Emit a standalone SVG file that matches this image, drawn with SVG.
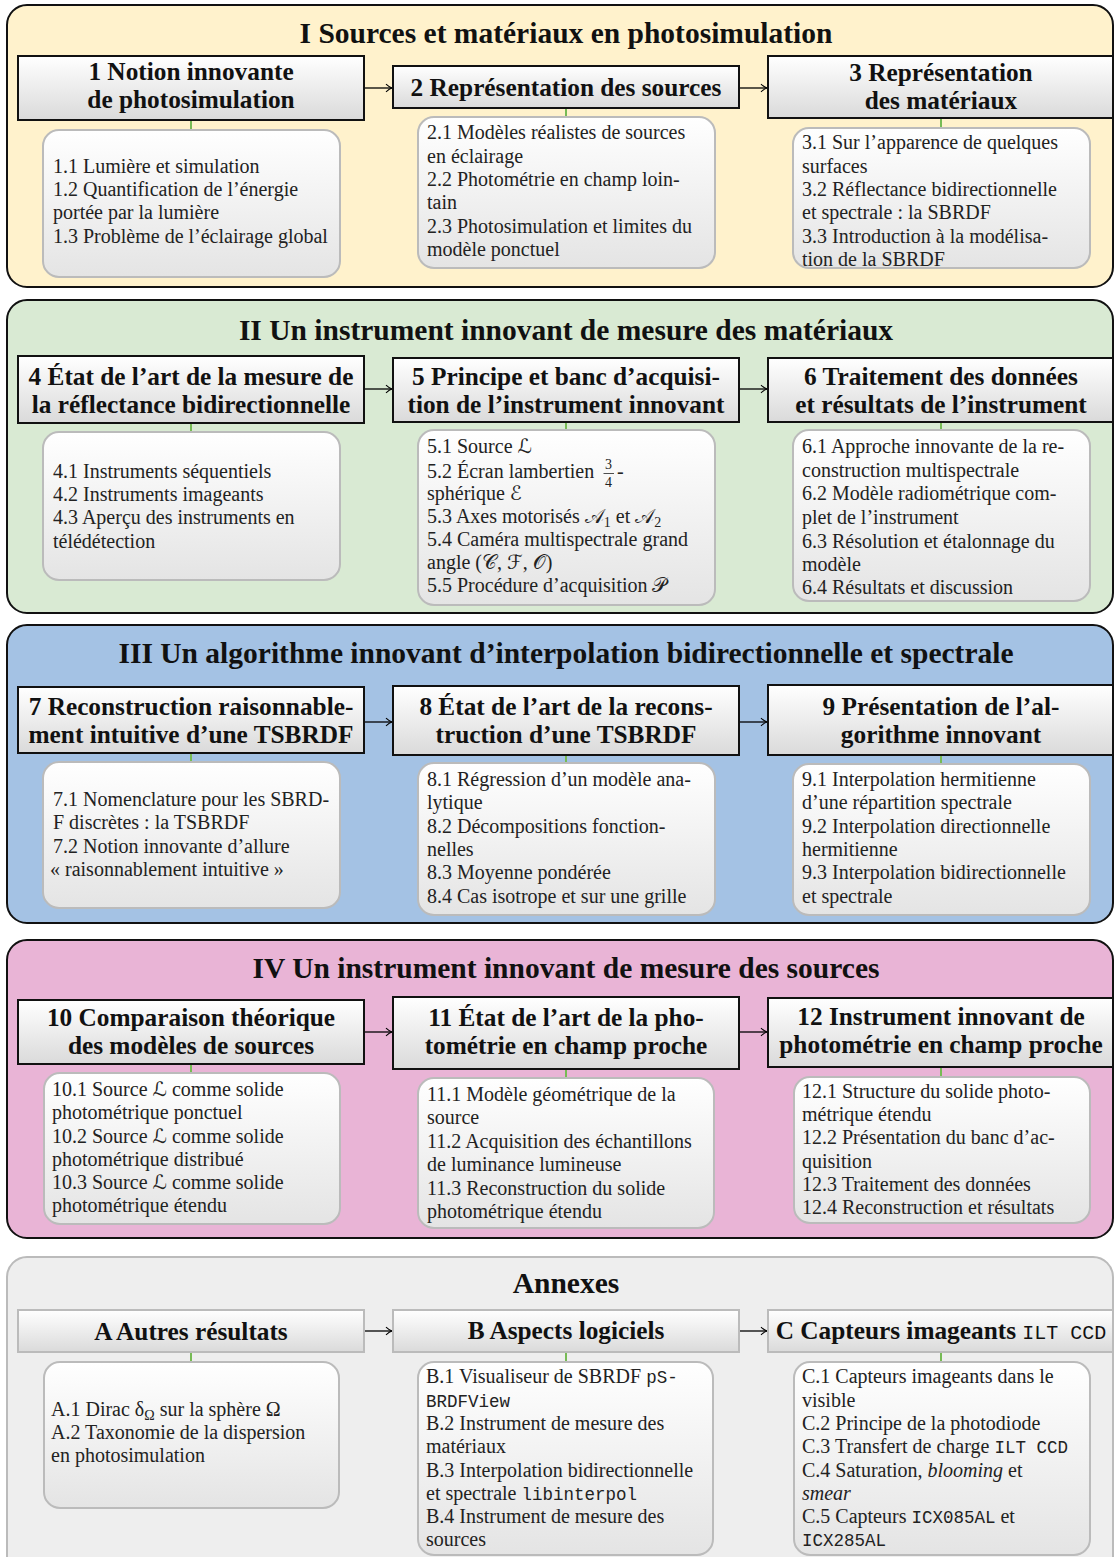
<svg xmlns="http://www.w3.org/2000/svg" width="1115" height="1557" viewBox="0 0 1115 1557">
<defs>
<linearGradient id="ghdr" x1="0" y1="0" x2="0" y2="1"><stop offset="0" stop-color="#FFFFFF"/><stop offset="1" stop-color="#DADADA"/></linearGradient>
<linearGradient id="gcnt" x1="0" y1="0" x2="0" y2="1"><stop offset="0" stop-color="#FFFFFF"/><stop offset="1" stop-color="#E4E4E4"/></linearGradient>
<marker id="ah" viewBox="-8 -5 9 10" refX="0" refY="0" markerWidth="9" markerHeight="10" markerUnits="userSpaceOnUse" orient="auto"><path d="M-6,-3.8 Q-2.5,-0.6 0,0 Q-2.5,0.6 -6,3.8" fill="none" stroke="#000" stroke-width="1.1"/></marker>
<style>
.pan{stroke:#111;stroke-width:2}
.hdr{fill:url(#ghdr);stroke:#111;stroke-width:2}
.hdrA{fill:url(#ghdr);stroke:#BBBBBB;stroke-width:2}
.cnt{fill:url(#gcnt);stroke:#BBBBBB;stroke-width:2}
.ti{font-family:"Liberation Serif","DejaVu Serif",serif;font-weight:bold;font-size:29.5px;text-anchor:middle;fill:#111}
.h{font-family:"Liberation Serif","DejaVu Serif",serif;font-weight:bold;font-size:25.3px;text-anchor:middle;fill:#111}
.t{font-family:"Liberation Serif","DejaVu Serif","DejaVu Sans",serif;font-size:20px;fill:#222}
.m{font-family:"Liberation Mono","DejaVu Sans Mono",monospace;font-weight:normal;font-size:17.5px}
.mh{font-family:"Liberation Mono","DejaVu Sans Mono",monospace;font-weight:normal;font-size:20px}
.lk{stroke:#77BB55;stroke-width:2}
.ar{stroke:#000;stroke-width:1.3;fill:none;marker-end:url(#ah)}
</style>
</defs>
<g id="panels">
<rect id="panel-I" class="pan" x="7" y="5" width="1106" height="282" rx="20" fill="#FFF2CC"/>
<rect id="panel-II" class="pan" x="7" y="300" width="1106" height="313" rx="20" fill="#D9EAD3"/>
<rect id="panel-III" class="pan" x="7" y="625" width="1106" height="298" rx="20" fill="#A4C2E4"/>
<rect id="panel-IV" class="pan" x="7" y="940" width="1106" height="298" rx="20" fill="#E9B4D6"/>
<rect id="panel-annexes" x="7" y="1257" width="1106" height="330" rx="20" fill="#EEEEEE" stroke="#BBBBBB" stroke-width="2"/>
<text class="ti" x="566" y="43">I Sources et matériaux en photosimulation</text>
<text class="ti" x="566" y="340">II Un instrument innovant de mesure des matériaux</text>
<text class="ti" x="566" y="663">III Un algorithme innovant d’interpolation bidirectionnelle et spectrale</text>
<text class="ti" x="566" y="978">IV Un instrument innovant de mesure des sources</text>
<text class="ti" x="566" y="1293">Annexes</text>
</g>
<g id="connectors">
<line class="ar" x1="364" y1="88" x2="392" y2="88"/>
<line class="ar" x1="739" y1="88" x2="767" y2="88"/>
<line class="ar" x1="364" y1="389" x2="392" y2="389"/>
<line class="ar" x1="739" y1="389" x2="767" y2="389"/>
<line class="ar" x1="364" y1="722" x2="392" y2="722"/>
<line class="ar" x1="739" y1="722" x2="767" y2="722"/>
<line class="ar" x1="364" y1="1032" x2="392" y2="1032"/>
<line class="ar" x1="739" y1="1032" x2="767" y2="1032"/>
<line class="ar" x1="364" y1="1331" x2="392" y2="1331"/>
<line class="ar" x1="739" y1="1331" x2="767" y2="1331"/>
<line class="lk" x1="191" y1="120" x2="191" y2="130"/>
<line class="lk" x1="566" y1="108" x2="566" y2="117"/>
<line class="lk" x1="941" y1="118" x2="941" y2="128"/>
<line class="lk" x1="191" y1="423" x2="191" y2="432"/>
<line class="lk" x1="566" y1="422" x2="566" y2="430"/>
<line class="lk" x1="941" y1="422" x2="941" y2="430"/>
<line class="lk" x1="191" y1="753" x2="191" y2="762"/>
<line class="lk" x1="566" y1="755" x2="566" y2="763"/>
<line class="lk" x1="941" y1="755" x2="941" y2="764"/>
<line class="lk" x1="191" y1="1064" x2="191" y2="1073"/>
<line class="lk" x1="566" y1="1069" x2="566" y2="1078"/>
<line class="lk" x1="941" y1="1067" x2="941" y2="1077"/>
<line class="lk" x1="191" y1="1352" x2="191" y2="1362"/>
<line class="lk" x1="566" y1="1352" x2="566" y2="1362"/>
<line class="lk" x1="941" y1="1352" x2="941" y2="1362"/>
</g>
<g id="node-1">
<rect class="hdr" x="18" y="56" width="346" height="64"/>
<text class="h" x="191" y="80">1 Notion innovante</text>
<text class="h" x="191" y="108">de photosimulation</text>
<rect class="cnt" x="43" y="130" width="297" height="147" rx="16"/>
<text class="t" x="53" y="173">1.1 Lumière et simulation</text>
<text class="t" x="53" y="196">1.2 Quantification de l’énergie</text>
<text class="t" x="53" y="219">portée par la lumière</text>
<text class="t" x="53" y="243">1.3 Problème de l’éclairage global</text>
</g>
<g id="node-2">
<rect class="hdr" x="393" y="66" width="346" height="42"/>
<text class="h" x="566" y="96">2 Représentation des sources</text>
<rect class="cnt" x="418" y="117" width="297" height="151" rx="16"/>
<text class="t" x="427" y="139">2.1 Modèles réalistes de sources</text>
<text class="t" x="427" y="163">en éclairage</text>
<text class="t" x="427" y="186">2.2 Photométrie en champ loin-</text>
<text class="t" x="427" y="209">tain</text>
<text class="t" x="427" y="233">2.3 Photosimulation et limites du</text>
<text class="t" x="427" y="256">modèle ponctuel</text>
</g>
<g id="node-3">
<rect class="hdr" x="768" y="56" width="345" height="62"/>
<text class="h" x="941" y="81">3 Représentation</text>
<text class="h" x="941" y="109">des matériaux</text>
<rect class="cnt" x="793" y="128" width="297" height="140" rx="16"/>
<text class="t" x="802" y="149">3.1 Sur l’apparence de quelques</text>
<text class="t" x="802" y="173">surfaces</text>
<text class="t" x="802" y="196">3.2 Réflectance bidirectionnelle</text>
<text class="t" x="802" y="219">et spectrale : la SBRDF</text>
<text class="t" x="802" y="243">3.3 Introduction à la modélisa-</text>
<text class="t" x="802" y="266">tion de la SBRDF</text>
</g>
<g id="node-4">
<rect class="hdr" x="18" y="356" width="346" height="67"/>
<text class="h" x="191" y="385">4 État de l’art de la mesure de</text>
<text class="h" x="191" y="413">la réflectance bidirectionnelle</text>
<rect class="cnt" x="43" y="432" width="297" height="148" rx="16"/>
<text class="t" x="53" y="478">4.1 Instruments séquentiels</text>
<text class="t" x="53" y="501">4.2 Instruments imageants</text>
<text class="t" x="53" y="524">4.3 Aperçu des instruments en</text>
<text class="t" x="53" y="548">télédétection</text>
</g>
<g id="node-5">
<rect class="hdr" x="393" y="358" width="346" height="64"/>
<text class="h" x="566" y="385">5 Principe et banc d’acquisi-</text>
<text class="h" x="566" y="413">tion de l’instrument innovant</text>
<rect class="cnt" x="418" y="430" width="297" height="175" rx="16"/>
<text class="t" x="427" y="453">5.1 Source ℒ</text>
<text class="t" x="427" y="478">5.2 Écran lambertien <tspan x="605" y="469" font-size="14">3</tspan><tspan x="605" y="487" font-size="14">4</tspan><tspan x="617" y="478">-</tspan></text>
<line x1="603.5" y1="473.5" x2="614" y2="473.5" stroke="#222" stroke-width="0.8"/>
<text class="t" x="427" y="500">sphérique ℰ</text>
<text class="t" x="427" y="523">5.3 Axes motorisés 𝒜<tspan font-size="14" dy="4">1</tspan><tspan dy="-4"> et 𝒜</tspan><tspan font-size="14" dy="4">2</tspan></text>
<text class="t" x="427" y="546">5.4 Caméra multispectrale grand</text>
<text class="t" x="427" y="569">angle (𝒞, ℱ, 𝒪)</text>
<text class="t" x="427" y="592">5.5 Procédure d’acquisition 𝒫</text>
</g>
<g id="node-6">
<rect class="hdr" x="768" y="358" width="345" height="64"/>
<text class="h" x="941" y="385">6 Traitement des données</text>
<text class="h" x="941" y="413">et résultats de l’instrument</text>
<rect class="cnt" x="793" y="430" width="297" height="171" rx="16"/>
<text class="t" x="802" y="453">6.1 Approche innovante de la re-</text>
<text class="t" x="802" y="477">construction multispectrale</text>
<text class="t" x="802" y="500">6.2 Modèle radiométrique com-</text>
<text class="t" x="802" y="524">plet de l’instrument</text>
<text class="t" x="802" y="548">6.3 Résolution et étalonnage du</text>
<text class="t" x="802" y="571">modèle</text>
<text class="t" x="802" y="594">6.4 Résultats et discussion</text>
</g>
<g id="node-7">
<rect class="hdr" x="18" y="687" width="346" height="66"/>
<text class="h" x="191" y="715">7 Reconstruction raisonnable-</text>
<text class="h" x="191" y="743">ment intuitive d’une TSBRDF</text>
<rect class="cnt" x="43" y="762" width="297" height="146" rx="16"/>
<text class="t" x="53" y="806">7.1 Nomenclature pour les SBRD-</text>
<text class="t" x="53" y="829">F discrètes : la TSBRDF</text>
<text class="t" x="53" y="853">7.2 Notion innovante d’allure</text>
<text class="t" x="50" y="876">« raisonnablement intuitive »</text>
</g>
<g id="node-8">
<rect class="hdr" x="393" y="686" width="346" height="69"/>
<text class="h" x="566" y="715">8 État de l’art de la recons-</text>
<text class="h" x="566" y="743">truction d’une TSBRDF</text>
<rect class="cnt" x="418" y="763" width="297" height="152" rx="16"/>
<text class="t" x="427" y="786">8.1 Régression d’un modèle ana-</text>
<text class="t" x="427" y="809">lytique</text>
<text class="t" x="427" y="833">8.2 Décompositions fonction-</text>
<text class="t" x="427" y="856">nelles</text>
<text class="t" x="427" y="879">8.3 Moyenne pondérée</text>
<text class="t" x="427" y="903">8.4 Cas isotrope et sur une grille</text>
</g>
<g id="node-9">
<rect class="hdr" x="768" y="685" width="345" height="70"/>
<text class="h" x="941" y="715">9 Présentation de l’al-</text>
<text class="h" x="941" y="743">gorithme innovant</text>
<rect class="cnt" x="793" y="764" width="297" height="151" rx="16"/>
<text class="t" x="802" y="786">9.1 Interpolation hermitienne</text>
<text class="t" x="802" y="809">d’une répartition spectrale</text>
<text class="t" x="802" y="833">9.2 Interpolation directionnelle</text>
<text class="t" x="802" y="856">hermitienne</text>
<text class="t" x="802" y="879">9.3 Interpolation bidirectionnelle</text>
<text class="t" x="802" y="903">et spectrale</text>
</g>
<g id="node-10">
<rect class="hdr" x="18" y="1000" width="346" height="64"/>
<text class="h" x="191" y="1026">10 Comparaison théorique</text>
<text class="h" x="191" y="1054">des modèles de sources</text>
<rect class="cnt" x="44" y="1073" width="296" height="151" rx="16"/>
<text class="t" x="52" y="1096">10.1 Source ℒ comme solide</text>
<text class="t" x="52" y="1119">photométrique ponctuel</text>
<text class="t" x="52" y="1143">10.2 Source ℒ comme solide</text>
<text class="t" x="52" y="1166">photométrique distribué</text>
<text class="t" x="52" y="1189">10.3 Source ℒ comme solide</text>
<text class="t" x="52" y="1212">photométrique étendu</text>
</g>
<g id="node-11">
<rect class="hdr" x="393" y="997" width="346" height="72"/>
<text class="h" x="566" y="1026">11 État de l’art de la pho-</text>
<text class="h" x="566" y="1054">tométrie en champ proche</text>
<rect class="cnt" x="418" y="1078" width="296" height="150" rx="16"/>
<text class="t" x="427" y="1101">11.1 Modèle géométrique de la</text>
<text class="t" x="427" y="1124">source</text>
<text class="t" x="427" y="1148">11.2 Acquisition des échantillons</text>
<text class="t" x="427" y="1171">de luminance lumineuse</text>
<text class="t" x="427" y="1195">11.3 Reconstruction du solide</text>
<text class="t" x="427" y="1218">photométrique étendu</text>
</g>
<g id="node-12">
<rect class="hdr" x="768" y="998" width="345" height="69"/>
<text class="h" x="941" y="1025">12 Instrument innovant de</text>
<text class="h" x="941" y="1053">photométrie en champ proche</text>
<rect class="cnt" x="794" y="1077" width="296" height="146" rx="16"/>
<text class="t" x="802" y="1098">12.1 Structure du solide photo-</text>
<text class="t" x="802" y="1121">métrique étendu</text>
<text class="t" x="802" y="1144">12.2 Présentation du banc d’ac-</text>
<text class="t" x="802" y="1168">quisition</text>
<text class="t" x="802" y="1191">12.3 Traitement des données</text>
<text class="t" x="802" y="1214">12.4 Reconstruction et résultats</text>
</g>
<g id="node-A">
<rect class="hdrA" x="18" y="1310" width="346" height="42"/>
<text class="h" x="191" y="1340">A Autres résultats</text>
<rect class="cnt" x="44" y="1362" width="295" height="146" rx="16"/>
<text class="t" x="51" y="1416">A.1 Dirac δ<tspan font-size="14" dy="4">Ω</tspan><tspan dy="-4"> sur la sphère Ω</tspan></text>
<text class="t" x="51" y="1439">A.2 Taxonomie de la dispersion</text>
<text class="t" x="51" y="1462">en photosimulation</text>
</g>
<g id="node-B">
<rect class="hdrA" x="393" y="1310" width="346" height="42"/>
<text class="h" x="566" y="1339">B Aspects logiciels</text>
<rect class="cnt" x="418" y="1362" width="295" height="193" rx="16"/>
<text class="t" x="426" y="1383">B.1 Visualiseur de SBRDF <tspan class="m">pS-</tspan></text>
<text class="t m" x="426" y="1407">BRDFView</text>
<text class="t" x="426" y="1430">B.2 Instrument de mesure des</text>
<text class="t" x="426" y="1453">matériaux</text>
<text class="t" x="426" y="1477">B.3 Interpolation bidirectionnelle</text>
<text class="t" x="426" y="1500">et spectrale <tspan class="m">libinterpol</tspan></text>
<text class="t" x="426" y="1523">B.4 Instrument de mesure des</text>
<text class="t" x="426" y="1546">sources</text>
</g>
<g id="node-C">
<rect class="hdrA" x="768" y="1310" width="345" height="42"/>
<text class="h" x="941" y="1339">C Capteurs imageants <tspan class="mh">ILT CCD</tspan></text>
<rect class="cnt" x="794" y="1362" width="296" height="193" rx="16"/>
<text class="t" x="802" y="1383">C.1 Capteurs imageants dans le</text>
<text class="t" x="802" y="1407">visible</text>
<text class="t" x="802" y="1430">C.2 Principe de la photodiode</text>
<text class="t" x="802" y="1453">C.3 Transfert de charge <tspan class="m">ILT CCD</tspan></text>
<text class="t" x="802" y="1477">C.4 Saturation, <tspan font-style="italic">blooming</tspan> et</text>
<text class="t" x="802" y="1500"><tspan font-style="italic">smear</tspan></text>
<text class="t" x="802" y="1523">C.5 Capteurs <tspan class="m">ICX085AL</tspan> et</text>
<text class="t m" x="802" y="1546">ICX285AL</text>
</g>
</svg>
